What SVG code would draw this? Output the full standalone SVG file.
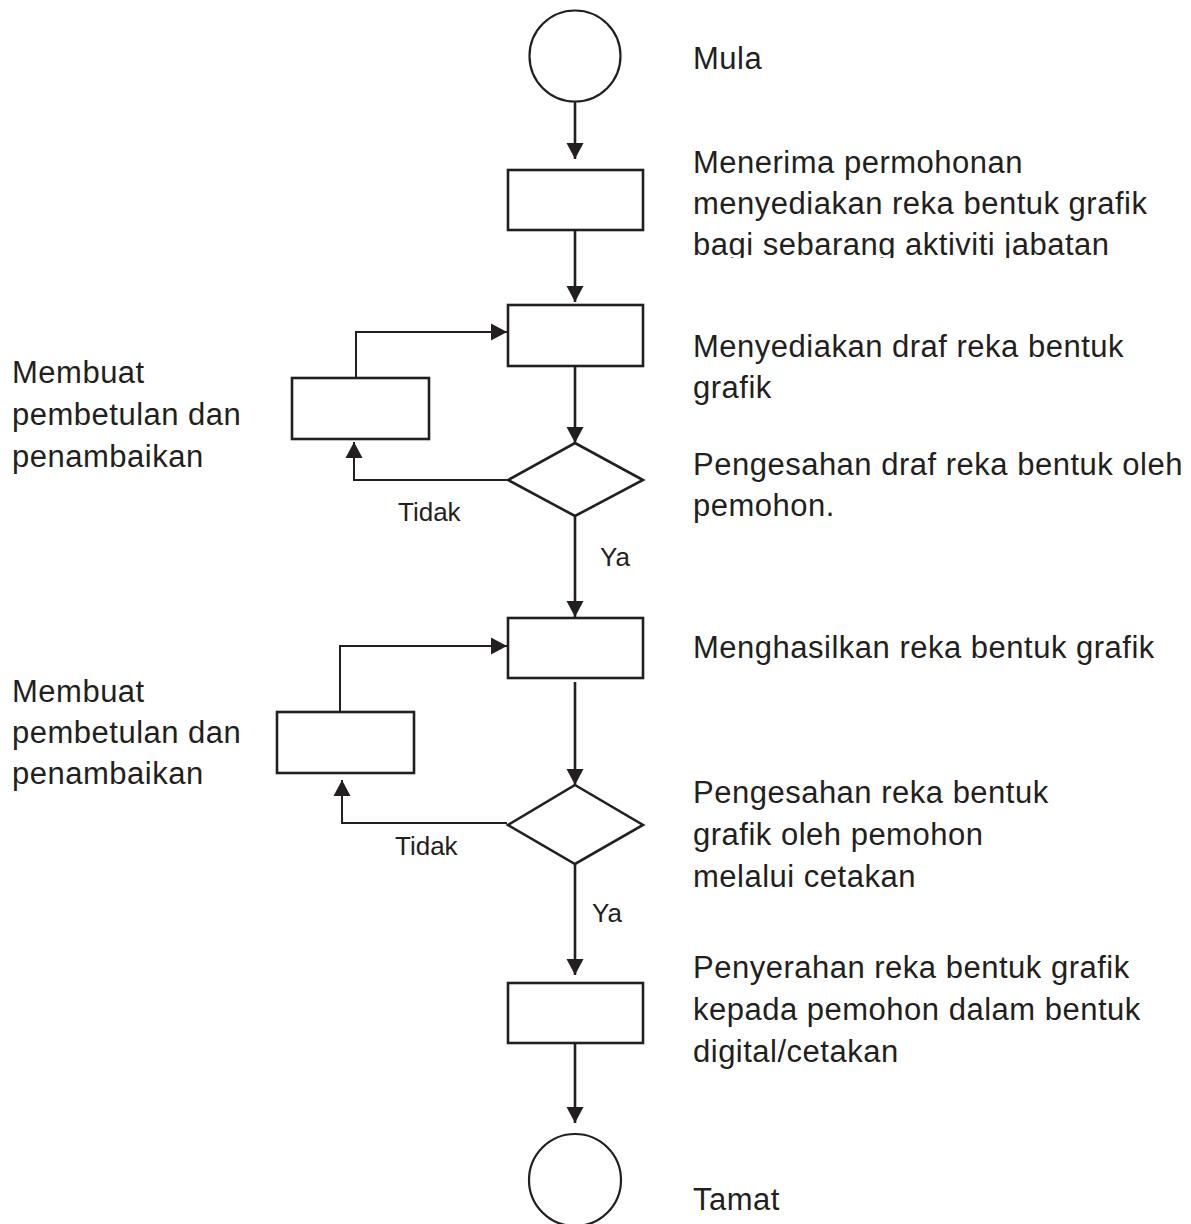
<svg xmlns="http://www.w3.org/2000/svg" width="1191" height="1224" viewBox="0 0 1191 1224">
<style>
.shape{fill:#fff;stroke:#231f20;stroke-width:2.6}
.circ{fill:#fff;stroke:#231f20;stroke-width:2.2}
.conn{fill:none;stroke:#231f20;stroke-width:2.6}
.loop{fill:none;stroke:#231f20;stroke-width:2}
.lbl{font-family:"Liberation Sans",Arial,sans-serif;font-size:31px;letter-spacing:0.5px;fill:#231f20}
.sm{font-family:"Liberation Sans",Arial,sans-serif;font-size:26px;fill:#231f20}
</style>
<defs>
<marker id="arr" markerUnits="userSpaceOnUse" markerWidth="17" markerHeight="18" refX="16" refY="9" orient="auto">
<path d="M0,0.5 L16,9 L0,17.5 z" fill="#231f20"/>
</marker>
<clipPath id="clip1"><rect x="680" y="140" width="500" height="118"/></clipPath>
</defs>
<rect width="1191" height="1224" fill="#fff"/>
<g id="connectors">
<line class="conn" x1="575" y1="101" x2="575" y2="159" marker-end="url(#arr)"/>
<line class="conn" x1="575" y1="230" x2="575" y2="302" marker-end="url(#arr)"/>
<line class="conn" x1="575" y1="366" x2="575" y2="443" marker-end="url(#arr)"/>
<line class="conn" x1="575" y1="516" x2="575" y2="617" marker-end="url(#arr)"/>
<line class="conn" x1="575" y1="682" x2="575" y2="785" marker-end="url(#arr)"/>
<line class="conn" x1="575" y1="864" x2="575" y2="975" marker-end="url(#arr)"/>
<line class="conn" x1="575" y1="1043" x2="575" y2="1123" marker-end="url(#arr)"/>
<polyline class="loop" points="508,480 354,480 354,442" marker-end="url(#arr)"/>
<polyline class="loop" points="356,378 356,332 507,332" marker-end="url(#arr)"/>
<polyline class="loop" points="507,823 342,823 342,780" marker-end="url(#arr)"/>
<polyline class="loop" points="340,712 340,646 507,646" marker-end="url(#arr)"/>
<text class="sm" x="398" y="521">Tidak</text>
<text class="sm" x="600" y="566">Ya</text>
<text class="sm" x="395" y="855">Tidak</text>
<text class="sm" x="592" y="922">Ya</text>
</g>
<g id="start">
<circle class="circ" cx="575" cy="56" r="45.5"/>
<text class="lbl" x="693" y="69">Mula</text>
</g>
<g id="terima">
<rect class="shape" x="508" y="170" width="135" height="60"/>
<g clip-path="url(#clip1)">
<text class="lbl" x="693" y="173">Menerima permohonan</text>
<text class="lbl" x="693" y="214">menyediakan reka bentuk grafik</text>
<text class="lbl" x="693" y="255">bagi sebarang aktiviti jabatan</text>
</g>
</g>
<g id="draf">
<rect class="shape" x="508" y="305" width="135" height="61"/>
<text class="lbl" x="693" y="357">Menyediakan draf reka bentuk</text>
<text class="lbl" x="693" y="398">grafik</text>
</g>
<g id="semak1">
<polygon class="shape" points="575,443 643,480 575,516 508,480"/>
<text class="lbl" x="693" y="475">Pengesahan draf reka bentuk oleh</text>
<text class="lbl" x="693" y="516">pemohon.</text>
</g>
<g id="betul1">
<rect class="shape" x="292" y="378" width="137" height="61"/>
<text class="lbl" x="12" y="383">Membuat</text>
<text class="lbl" x="12" y="425">pembetulan dan</text>
<text class="lbl" x="12" y="467">penambaikan</text>
</g>
<g id="hasil">
<rect class="shape" x="508" y="618" width="135" height="60"/>
<text class="lbl" x="693" y="658">Menghasilkan reka bentuk grafik</text>
</g>
<g id="semak2">
<polygon class="shape" points="575,785 643,825 575,864 508,825"/>
<text class="lbl" x="693" y="803">Pengesahan reka bentuk</text>
<text class="lbl" x="693" y="845">grafik oleh pemohon</text>
<text class="lbl" x="693" y="887">melalui cetakan</text>
</g>
<g id="betul2">
<rect class="shape" x="277" y="712" width="137" height="61"/>
<text class="lbl" x="12" y="702">Membuat</text>
<text class="lbl" x="12" y="743">pembetulan dan</text>
<text class="lbl" x="12" y="784">penambaikan</text>
</g>
<g id="serah">
<rect class="shape" x="508" y="983" width="135" height="60"/>
<text class="lbl" x="693" y="978">Penyerahan reka bentuk grafik</text>
<text class="lbl" x="693" y="1020">kepada pemohon dalam bentuk</text>
<text class="lbl" x="693" y="1062">digital/cetakan</text>
</g>
<g id="end">
<circle class="circ" cx="575" cy="1180" r="46"/>
<text class="lbl" x="693" y="1210">Tamat</text>
</g>
</svg>
